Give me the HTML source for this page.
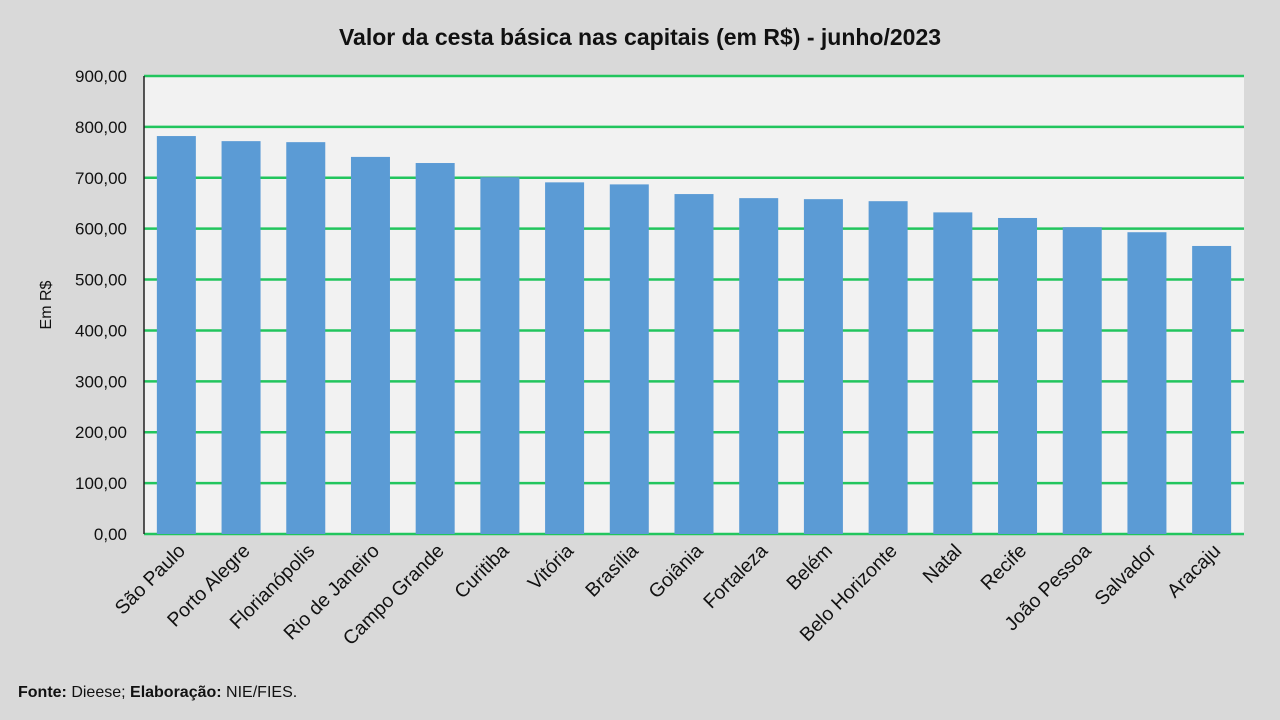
<!DOCTYPE html>
<html><head><meta charset="utf-8"><style>body{margin:0;background:#d9d9d9}svg{display:block}</style></head><body>
<svg width="1280" height="720" xmlns="http://www.w3.org/2000/svg" font-family="Liberation Sans, DejaVu Sans, sans-serif">
<rect width="1280" height="720" fill="#d9d9d9"/>
<text x="640" y="45" text-anchor="middle" font-size="23" font-weight="bold" fill="#111">Valor da cesta básica nas capitais (em R$) - junho/2023</text>
<rect x="144" y="76" width="1100" height="458" fill="#f2f2f2"/>
<g id="g"></g>
<line x1="144" y1="76" x2="144" y2="534" stroke="#222" stroke-width="1.5"/>
<text transform="translate(51,305) rotate(-90)" text-anchor="middle" font-size="16" fill="#111">Em R$</text>
<text x="18" y="697" font-size="16" fill="#111"><tspan font-weight="bold">Fonte:</tspan> Dieese; <tspan font-weight="bold">Elaboração:</tspan> NIE/FIES.</text>
<script>
var s="http://www.w3.org/2000/svg",g=document.getElementById('g');
function el(t,a,txt){var e=document.createElementNS(s,t);for(var k in a)e.setAttribute(k,a[k]);if(txt)e.textContent=txt;g.appendChild(e);return e;}
var k=458/900;
for(var i=0;i<=9;i++){var y=534-i*100*k;
 if(i>0)el('line',{x1:144,x2:1244,y1:y,y2:y,stroke:'#22c55e','stroke-width':2.5});
 el('text',{x:127,y:y+6,'text-anchor':'end','font-size':'17',fill:'#111'},(i*100)+',00');}
el('line',{x1:144,x2:1244,y1:534,y2:534,stroke:'#22c55e','stroke-width':2.5});
var n=["São Paulo","Porto Alegre","Florianópolis","Rio de Janeiro","Campo Grande","Curitiba","Vitória","Brasília","Goiânia","Fortaleza","Belém","Belo Horizonte","Natal","Recife","João Pessoa","Salvador","Aracaju"];
var v=[782,772,770,741,729,701,691,687,668,660,658,654,632,621,603,593,566];
var w=1100/17;
for(var i=0;i<17;i++){var c=144+w*(i+0.5);
 el('rect',{x:c-19.5,y:534-v[i]*k,width:39,height:v[i]*k,fill:'#5b9bd5'});
 el('text',{transform:'translate('+(c+10)+',552) rotate(-45)','text-anchor':'end','font-size':'19.5',fill:'#111'},n[i]);}
</script>
</svg>
</body></html>
